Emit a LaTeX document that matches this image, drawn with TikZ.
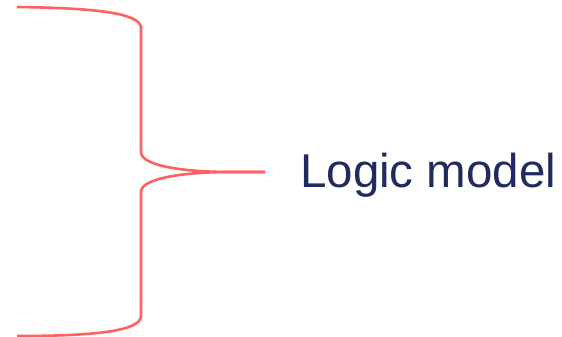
\documentclass[tikz,border=0pt]{standalone}
\usepackage{fontspec}
\setmainfont{Liberation Sans}
\usetikzlibrary{positioning}
\definecolor{bracered}{HTML}{FF6161}
\definecolor{labelnavy}{HTML}{1F2A5E}

\begin{document}
\begin{tikzpicture}[x=1pt, y=-1pt]
  \useasboundingbox (0,0) rectangle (562,337);
  % Brace
  \coordinate (tip) at (265,172);
  \draw[bracered, line width=2.6pt, line join=round]
    (17,7) .. controls (95,8) and (141,13) .. (141,28)
    -- (141,152) .. controls (141,167) and (190,172) .. (230,172) -- (tip);
  \draw[bracered, line width=2.6pt, line join=round]
    (tip) -- (230,172) .. controls (190,172) and (141,177) .. (141,192)
    -- (141,316) .. controls (141,331) and (95,336) .. (17,336);

  % Label
  \node[anchor=base west, inner sep=0pt, text=labelnavy, font=\fontsize{47.5}{52}\selectfont] (logic) at (300,187.5) {Logic model};
\end{tikzpicture}
\end{document}
